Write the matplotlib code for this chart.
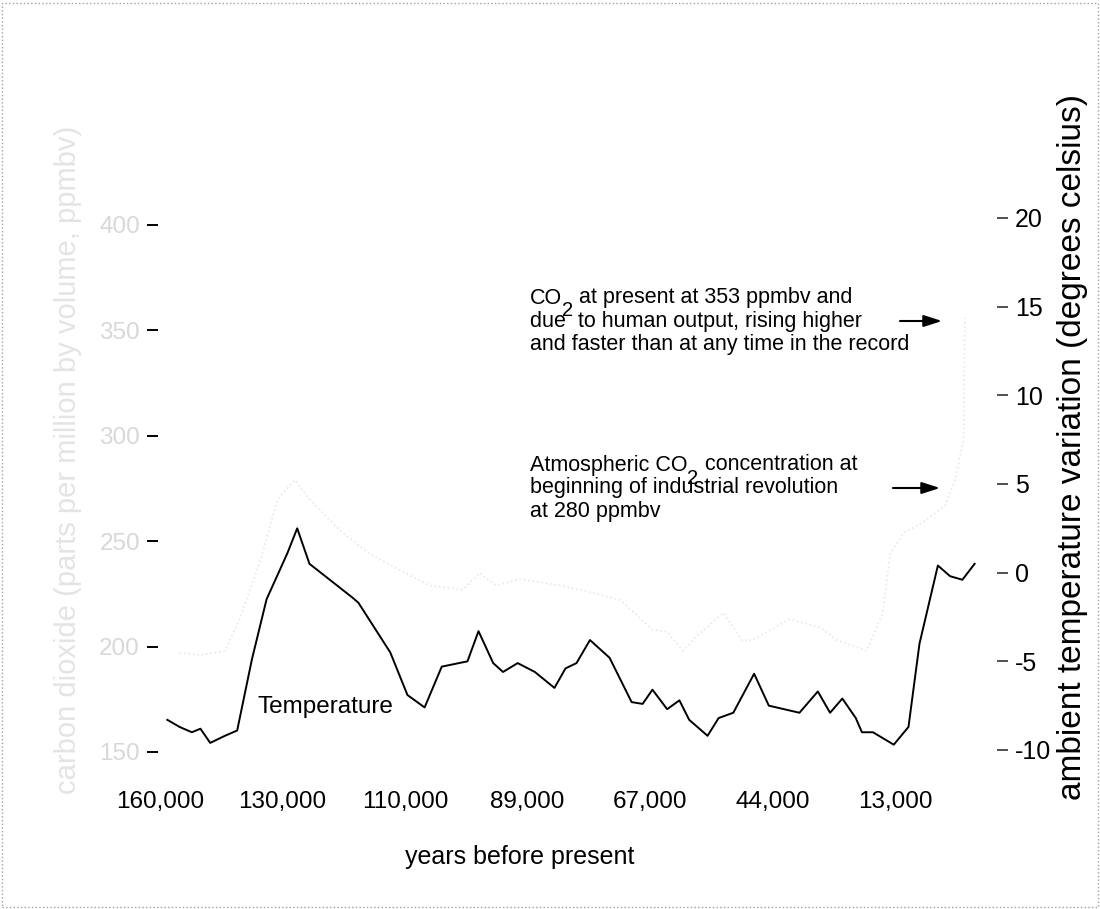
import numpy as np
import matplotlib
matplotlib.use('Agg')
import matplotlib.pyplot as plt
from matplotlib.patches import Rectangle

plt.rcParams['font.family'] = ['Liberation Sans', 'DejaVu Sans']

W, H = 1100, 909

# x axis: the age labels are evenly spaced (not a linear time scale)
year_labels = ['160,000', '130,000', '110,000', '89,000', '67,000', '44,000', '13,000']

# temperature curve, x in label positions, y in degrees
temp_pos = [0.06, 0.16, 0.26, 0.33, 0.41, 0.53, 0.63, 0.75, 0.87, 1.04, 1.12, 1.22,
            1.57, 1.62, 1.88, 2.02, 2.16, 2.30, 2.51, 2.60, 2.72, 2.80, 2.92, 3.06,
            3.22, 3.31, 3.40, 3.51, 3.67, 3.85, 3.94, 4.02, 4.14, 4.24, 4.32, 4.47,
            4.56, 4.68, 4.85, 4.97, 5.22, 5.37, 5.47, 5.57, 5.68, 5.73, 5.82, 5.99,
            6.11, 6.20, 6.35, 6.45, 6.55, 6.65]
temp_val = [-8.3, -8.7, -9.0, -8.8, -9.6, -9.2, -8.9, -4.9, -1.5, 1.1, 2.5, 0.5,
            -1.4, -1.7, -4.5, -6.9, -7.6, -5.3, -5.0, -3.3, -5.1, -5.6, -5.1, -5.6,
            -6.5, -5.4, -5.1, -3.8, -4.8, -7.3, -7.4, -6.6, -7.7, -7.2, -8.3, -9.2,
            -8.2, -7.9, -5.7, -7.5, -7.9, -6.7, -7.9, -7.1, -8.2, -9.0, -9.0, -9.7,
            -8.7, -4.0, 0.4, -0.2, -0.4, 0.5]

# faint CO2 curve (ppmbv)
co2_pos = [0.16, 0.33, 0.53, 0.65, 0.82, 0.96, 1.10, 1.22, 1.47, 1.71, 2.00, 2.20,
           2.47, 2.61, 2.74, 2.94, 3.27, 3.57, 3.76, 4.02, 4.14, 4.27, 4.38, 4.60,
           4.75, 4.83, 5.14, 5.39, 5.53, 5.77, 5.90, 5.96, 6.07, 6.23, 6.41, 6.49,
           6.56, 6.57]
co2_val = [197, 196, 198, 213, 241, 270, 279, 270, 255, 244, 235, 229,
           227, 235, 229, 232, 229, 225, 222, 208, 207, 198, 205, 216,
           203, 203, 213, 209, 203, 198, 216, 244, 254, 259, 267, 279,
           298, 356]

co2_ticks = [400, 350, 300, 250, 200, 150]
temp_ticks = [20, 15, 10, 5, 0, -5, -10]
temp_tick_labels = ['20', '15', '10', '5', '0', '-5', '-10']


def fx(x):
    return x / W


def fy(y):
    return 1 - y / H


fig = plt.figure(figsize=(11, 9.09), dpi=100)
ax = fig.add_axes([fx(158), fy(770), (997 - 158) / W, (770 - 200) / H])
ax2 = ax.twinx()

ax.set_xlim(-2 / 122.5, 837 / 122.5)
ax.set_ylim(400 - 545 / 2.108, 400 + 25 / 2.108)
ax2.set_ylim(20 - 552 / 17.733, 20 + 18 / 17.733)

ax.plot(co2_pos, co2_val, color='#e8e8e8', lw=1.2, ls=':')
ax2.plot(temp_pos, temp_val, color='black', lw=1.4)

for a in (ax, ax2):
    for s in a.spines.values():
        s.set_visible(False)

ax.set_xticks(range(len(year_labels)))
ax.set_xticklabels(year_labels)
ax.tick_params(axis='x', length=0, pad=15, labelsize=17.5)

ax.set_yticks(co2_ticks)
ax.set_yticklabels([str(v) for v in co2_ticks])
ax.tick_params(axis='y', length=8, width=1.4, color='black', pad=5,
               labelsize=17.5, labelcolor='#d8d8d8')

ax2.set_yticks(temp_ticks)
ax2.set_yticklabels(temp_tick_labels)
ax2.tick_params(axis='y', length=8, width=1.2, color='#333333', pad=5,
                labelsize=18)

fig.text(fx(258), fy(707), 'Temperature', fontsize=17.5, ha='left', va='center')

fig.text(fx(520), fy(857), 'years before present', fontsize=18,
         ha='center', va='center')
fig.text(fx(1072), fy(447), 'ambient temperature variation (degrees celsius)',
         fontsize=24, rotation=90, ha='center', va='center')
fig.text(fx(68), fy(460), 'carbon dioxide (parts per million by volume, ppmbv)',
         fontsize=21, rotation=90, ha='center', va='center', color='#e4e4e4')

# annotations with the dropped subscript 2
renderer = fig.canvas.get_renderer()
fs = 15.5


def co2_line(x, y, before, after, size=fs):
    t1 = fig.text(fx(x), fy(y), before, fontsize=size, ha='left', va='center')
    x1 = t1.get_window_extent(renderer).x1
    t2 = fig.text(x1 / W, fy(y + 13), '2', fontsize=size - 1, ha='left', va='center')
    x2 = t2.get_window_extent(renderer).x1
    fig.text(x2 / W, fy(y), after, fontsize=size, ha='left', va='center')


co2_line(530, 298, 'CO', ' at present at 353 ppmbv and')
fig.text(fx(530), fy(321), 'due  to human output, rising higher', fontsize=fs, va='center')
fig.text(fx(530), fy(344), 'and faster than at any time in the record', fontsize=fs, va='center')

co2_line(530, 465, 'Atmospheric CO', ' concentration at')
fig.text(fx(530), fy(488), 'beginning of industrial revolution', fontsize=fs, va='center')
fig.text(fx(530), fy(511), 'at 280 ppmbv', fontsize=fs, va='center')

for x0, x1, y in [(900, 942, 321), (893, 940, 488)]:
    ax.annotate('', xy=(x1, H - y), xytext=(x0, H - y), xycoords='figure pixels',
                textcoords='figure pixels',
                arrowprops=dict(arrowstyle='-|>,head_length=1.0,head_width=0.32',
                                mutation_scale=11, color='black', lw=1.5,
                                shrinkA=0, shrinkB=0))

fig.patches.append(Rectangle((0.002, 0.002), 0.996, 0.995, transform=fig.transFigure,
                             fill=False, ls=':', ec='#a0a0a0', lw=1))

fig.savefig('out.png', dpi=100)
